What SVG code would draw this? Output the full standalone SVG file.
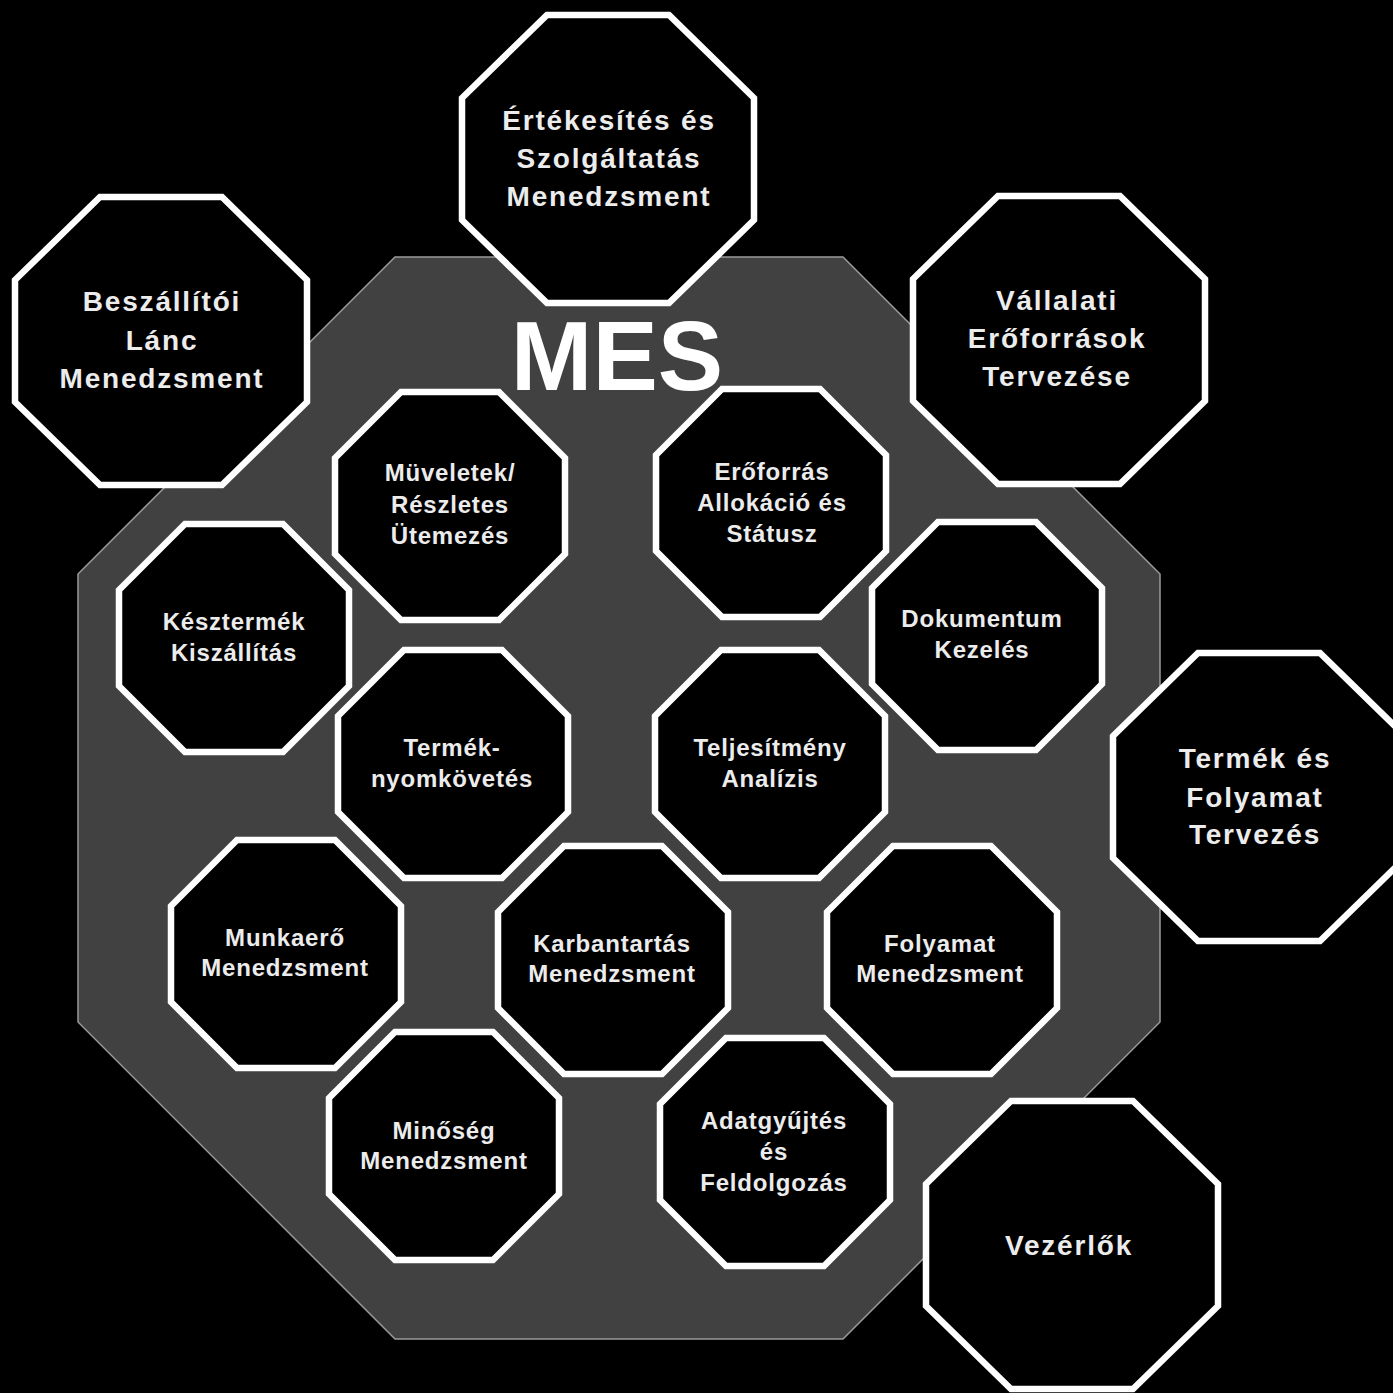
<svg xmlns="http://www.w3.org/2000/svg" width="1393" height="1393" viewBox="0 0 1393 1393">
<defs>
<style>
.oct{fill:#000;stroke:#fff;stroke-width:6.5;stroke-linejoin:miter}
.to{font-family:"Liberation Sans",Arial,sans-serif;font-weight:bold;font-size:28px;letter-spacing:1.8px;fill:#ececec;text-anchor:middle}
.ti{font-family:"Liberation Sans",Arial,sans-serif;font-weight:bold;font-size:24px;letter-spacing:0.8px;fill:#ececec;text-anchor:middle}
</style>
<polygon id="big" points="-61,-144 61,-144 146,-61 146,61 61,144 -61,144 -146,61 -146,-61"/>
<polygon id="small" points="-49,-114 49,-114 115,-48 115,48 49,114 -49,114 -115,48 -115,-48"/>
</defs>
<rect x="0" y="0" width="1393" height="1393" fill="#000"/>
<g id="mes">
<polygon points="395,257 843,257 1160,574 1160,1022 843,1339 395,1339 78,1022 78,574" fill="#414141" stroke="#9a9a9a" stroke-width="1.5"/>
<text x="617" y="390" font-family="Liberation Sans,Arial,sans-serif" font-weight="bold" font-size="98" fill="#ffffff" text-anchor="middle">MES</text>
</g>
<g id="connectors"/>
<g id="ertekesites">
<use href="#big" class="oct" x="608" y="159"/>
<text class="to" x="609" y="130">Értékesítés és</text>
<text class="to" x="609" y="168">Szolgáltatás</text>
<text class="to" x="609" y="206">Menedzsment</text>
</g>
<g id="beszallitoi">
<use href="#big" class="oct" x="161" y="341"/>
<text class="to" x="162" y="311">Beszállítói</text>
<text class="to" x="162" y="350">Lánc</text>
<text class="to" x="162" y="388">Menedzsment</text>
</g>
<g id="vallalati">
<use href="#big" class="oct" x="1059" y="340"/>
<text class="to" x="1057" y="310">Vállalati</text>
<text class="to" x="1057" y="348">Erőforrások</text>
<text class="to" x="1057" y="386">Tervezése</text>
</g>
<g id="termek-folyamat">
<use href="#big" class="oct" x="1259" y="797"/>
<text class="to" x="1255" y="768">Termék és</text>
<text class="to" x="1255" y="807">Folyamat</text>
<text class="to" x="1255" y="844">Tervezés</text>
</g>
<g id="vezerlok">
<use href="#big" class="oct" x="1072" y="1245"/>
<text class="to" x="1069" y="1255">Vezérlők</text>
</g>
<g id="muveletek">
<use href="#small" class="oct" x="450" y="506"/>
<text class="ti" x="450" y="481">Müveletek/</text>
<text class="ti" x="450" y="513">Részletes</text>
<text class="ti" x="450" y="544">Ütemezés</text>
</g>
<g id="eroforras">
<use href="#small" class="oct" x="771" y="503"/>
<text class="ti" x="772" y="480">Erőforrás</text>
<text class="ti" x="772" y="511">Allokáció és</text>
<text class="ti" x="772" y="542">Státusz</text>
</g>
<g id="késztermék">
<use href="#small" class="oct" x="234" y="638"/>
<text class="ti" x="234" y="630">Késztermék</text>
<text class="ti" x="234" y="661">Kiszállítás</text>
</g>
<g id="nyomkovetes">
<use href="#small" class="oct" x="453" y="764"/>
<text class="ti" x="452" y="756">Termék-</text>
<text class="ti" x="452" y="787">nyomkövetés</text>
</g>
<g id="dokumentum">
<use href="#small" class="oct" x="987" y="636"/>
<text class="ti" x="982" y="627">Dokumentum</text>
<text class="ti" x="982" y="658">Kezelés</text>
</g>
<g id="teljesitmeny">
<use href="#small" class="oct" x="770" y="764"/>
<text class="ti" x="770" y="756">Teljesítmény</text>
<text class="ti" x="770" y="787">Analízis</text>
</g>
<g id="munkaero">
<use href="#small" class="oct" x="286" y="954"/>
<text class="ti" x="285" y="946">Munkaerő</text>
<text class="ti" x="285" y="976">Menedzsment</text>
</g>
<g id="karbantartas">
<use href="#small" class="oct" x="613" y="960"/>
<text class="ti" x="612" y="952">Karbantartás</text>
<text class="ti" x="612" y="982">Menedzsment</text>
</g>
<g id="folyamat-menedzsment">
<use href="#small" class="oct" x="942" y="960"/>
<text class="ti" x="940" y="952">Folyamat</text>
<text class="ti" x="940" y="982">Menedzsment</text>
</g>
<g id="minoseg">
<use href="#small" class="oct" x="444" y="1146"/>
<text class="ti" x="444" y="1139">Minőség</text>
<text class="ti" x="444" y="1169">Menedzsment</text>
</g>
<g id="adatgyujtes">
<use href="#small" class="oct" x="775" y="1152"/>
<text class="ti" x="774" y="1129">Adatgyűjtés</text>
<text class="ti" x="774" y="1160">és</text>
<text class="ti" x="774" y="1191">Feldolgozás</text>
</g>
</svg>
